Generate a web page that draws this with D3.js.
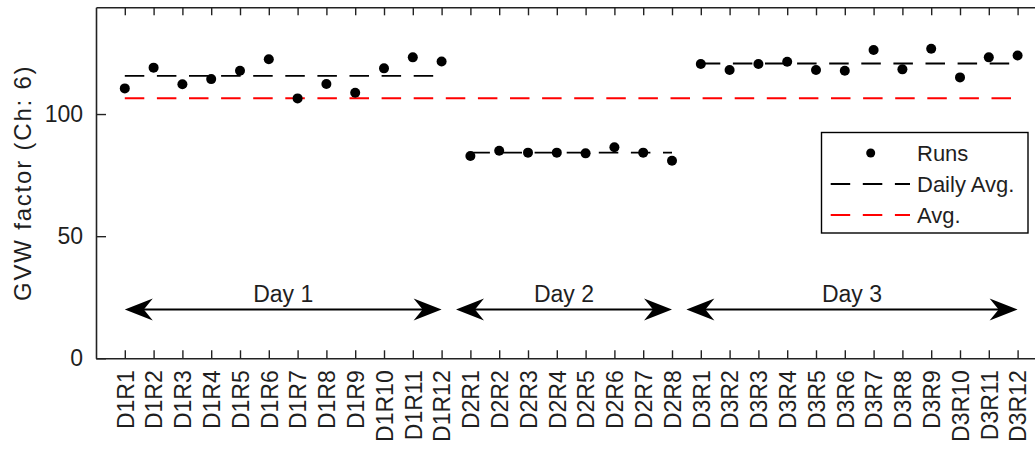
<!DOCTYPE html>
<html><head><meta charset="utf-8">
<script src="https://cdn.jsdelivr.net/npm/d3@7"></script>
<style>
body{margin:0;background:#fff}
text{font-family:"Liberation Sans",Arial,sans-serif;fill:#1f1f1f}
</style>
</head><body>
<svg id="c" width="1035" height="450"></svg>
<script>
// ---- data ----
const runLabels = ["D1R1","D1R2","D1R3","D1R4","D1R5","D1R6","D1R7","D1R8","D1R9","D1R10","D1R11","D1R12",
  "D2R1","D2R2","D2R3","D2R4","D2R5","D2R6","D2R7","D2R8",
  "D3R1","D3R2","D3R3","D3R4","D3R5","D3R6","D3R7","D3R8","D3R9","D3R10","D3R11","D3R12"];
const day1Values = [110.5,119.0,112.2,114.3,117.7,122.4,106.4,112.3,108.7,118.7,123.2,121.5];
const day2Values = [82.8,85.0,84.2,84.2,83.9,86.4,84.2,80.9];
const day3Values = [120.5,118.0,120.5,121.4,118.0,117.7,126.2,118.3,126.7,115.0,123.2,124.0];
const dailyAvg = [115.6,84.2,120.7];
const overallAvg = 106.5;
const dayNames = ["Day 1","Day 2","Day 3"];
const arrowStart = [1,12.5,20.5];
const arrowEnd = [12,20,32];
const arrowLevel = 20;
const dayTextLevel = 23;
const yTicks = [0,50,100];
const legendLabels = ["Runs","Daily Avg.","Avg."];

(function(){
const svg = d3.select("#c");
const x = d3.scaleLinear().domain([0,33]).range([96, 96+33*28.8]);
const y = d3.scaleLinear().domain([0,143.7]).range([358.3, 7.3]);

const days = [day1Values, day2Values, day3Values];
let idx = 1;
const points = [];
const dayRanges = [];
days.forEach((vals)=>{
  const s = idx;
  vals.forEach(v=>{points.push({i:idx, v}); idx++;});
  dayRanges.push([s, idx-1]);
});

const FS = 23;
const FF = "'Liberation Sans',Arial,sans-serif";

const gBottom = svg.append("g").attr("transform",`translate(0,${y(0)})`)
  .call(d3.axisBottom(x).tickValues(d3.range(1,33)).tickSize(-8).tickSizeOuter(0)
    .tickFormat(d=>runLabels[d-1]));
gBottom.selectAll("text").attr("transform","rotate(-90)").attr("x",-12).attr("y",0)
  .attr("dy","0.36em").style("text-anchor","end").style("font-size",FS+"px")
  .style("font-family",FF).attr("fill","#1f1f1f");
svg.append("g").attr("transform",`translate(0,${y(143.7)})`)
  .call(d3.axisTop(x).tickValues(d3.range(1,33)).tickSize(-8).tickSizeOuter(0).tickFormat(""));
const gLeft = svg.append("g").attr("transform",`translate(${x(0)},0)`)
  .call(d3.axisLeft(y).tickValues(yTicks).tickSize(-10).tickSizeOuter(0).tickPadding(13));
gLeft.selectAll("text").style("font-size",FS+"px").style("font-family",FF).attr("fill","#1f1f1f");
svg.selectAll(".domain").attr("stroke","#222").attr("stroke-width",1.6);
svg.selectAll(".tick line").attr("stroke","#222").attr("stroke-width",1.4);

svg.append("text").attr("transform",`translate(31,${(y(0)+y(143.7))/2}) rotate(-90)`)
  .attr("text-anchor","middle").style("font-size","24px").style("letter-spacing","1.8px")
  .text("GVW factor (Ch: 6)");

svg.append("line").attr("x1",x(1)).attr("x2",x(32)).attr("y1",y(overallAvg)).attr("y2",y(overallAvg))
  .attr("stroke","#ff0000").attr("stroke-width",2).attr("stroke-dasharray","19.5,12.6");

svg.selectAll(".davg").data(dailyAvg).join("line").attr("class","davg")
  .attr("x1",(d,i)=>x(dayRanges[i][0])).attr("x2",(d,i)=>x(dayRanges[i][1]))
  .attr("y1",d=>y(d)).attr("y2",d=>y(d))
  .attr("stroke","#000").attr("stroke-width",1.8).attr("stroke-dasharray","19.5,12.6");

svg.selectAll(".pt").data(points).join("circle").attr("class","pt")
  .attr("cx",d=>x(d.i)).attr("cy",d=>y(d.v)).attr("r",5).attr("fill","#000");

function head(tipX, tipY, dir){
  const L=28, W=11, N=19;
  return `M${tipX},${tipY} L${tipX-dir*L},${tipY-W} L${tipX-dir*N},${tipY} L${tipX-dir*L},${tipY+W} Z`;
}
dayNames.forEach((name,i)=>{
  const a=x(arrowStart[i]), b=x(arrowEnd[i]), yy=y(arrowLevel);
  svg.append("line").attr("x1",a+10).attr("x2",b-10).attr("y1",yy).attr("y2",yy)
    .attr("stroke","#000").attr("stroke-width",2);
  svg.append("path").attr("d",head(b,yy,1)).attr("fill","#000");
  svg.append("path").attr("d",head(a,yy,-1)).attr("fill","#000");
  svg.append("text").attr("x",(a+b)/2).attr("y",y(dayTextLevel)).attr("text-anchor","middle")
    .style("font-size",FS+"px").text(name);
});

const lg = svg.append("g");
lg.append("rect").attr("x",821.5).attr("y",132.5).attr("width",206.5).attr("height",100.5)
  .attr("fill","#fff").attr("stroke","#000").attr("stroke-width",1.4);
const rows=[153,184,215];
lg.append("circle").attr("cx",870.7).attr("cy",rows[0]).attr("r",4.5).attr("fill","#000");
lg.append("line").attr("x1",830.7).attr("x2",910).attr("y1",rows[1]).attr("y2",rows[1])
  .attr("stroke","#000").attr("stroke-width",1.8).attr("stroke-dasharray","19.5,12.6");
lg.append("line").attr("x1",830.7).attr("x2",910).attr("y1",rows[2]).attr("y2",rows[2])
  .attr("stroke","#ff0000").attr("stroke-width",1.8).attr("stroke-dasharray","19.5,12.6");
legendLabels.forEach((t,i)=>{
  lg.append("text").attr("x",917).attr("y",rows[i]).attr("dy","0.36em")
    .style("font-size","22px").text(t);
});
})();
</script>
</body></html>
